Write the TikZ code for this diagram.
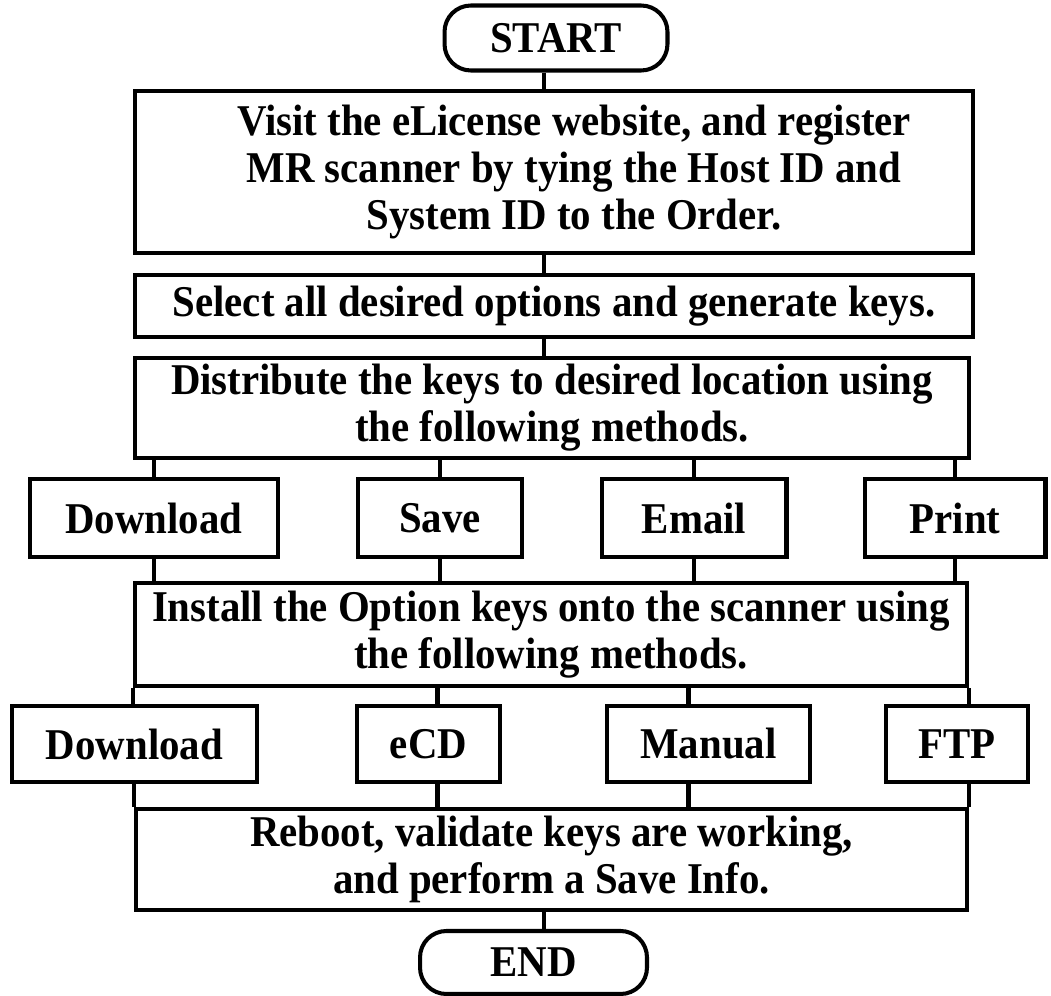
\documentclass[tikz,border=0pt]{standalone}
\usepackage{fontspec}
\setmainfont{Liberation Serif}[FakeStretch=0.93]
\begin{document}
\begin{tikzpicture}[x=0.02cm,y=-0.02cm,line join=miter]
  \tikzset{
    flowbox/.style={draw,line width=2.3pt,align=center,inner sep=0pt,
      font=\fontsize{25}{26.7}\selectfont\bfseries},
    termbox/.style={flowbox,rounded corners=15pt},
    link/.style={line width=2.3pt}
  }
  \useasboundingbox (0,0) rectangle (1051,996);
  \coordinate (spine) at (544,0);
  % main column
  \node[termbox,minimum width=4.46cm,minimum height=1.30cm] (start) at (556,38) {START};
  \node[flowbox,minimum width=16.76cm,minimum height=3.24cm] (visit) at (554,172)
    {\hspace*{0.8cm}Visit the eLicense website, and register\\\hspace*{0.8cm}MR scanner by tying the Host ID and\\\hspace*{0.8cm}System ID to the Order.};
  \node[flowbox,minimum width=16.76cm,minimum height=1.24cm] (select) at (554,306)
    {Select all desired options and generate keys.};
  \node[flowbox,minimum width=16.70cm,minimum height=2.00cm] (distr) at (552,408)
    {Distribute the keys to desired location using\\the following methods.};
  \node[flowbox,minimum width=16.64cm,minimum height=2.06cm] (install) at (551,634.5)
    {Install the Option keys onto the scanner using\\the following methods.};
  \node[flowbox,minimum width=16.62cm,minimum height=2.02cm] (reboot) at (551.5,859.5)
    {Reboot, validate keys are working,\\and perform a Save Info.};
  \node[termbox,minimum width=4.54cm,minimum height=1.26cm] (end) at (533.5,962.5) {END};
  % distribution methods
  \node[flowbox,minimum width=4.96cm,minimum height=1.56cm] (dlA) at (154,518) {Download};
  \node[flowbox,minimum width=3.28cm,minimum height=1.56cm] (save) at (440,518) {Save};
  \node[flowbox,minimum width=3.70cm,minimum height=1.56cm] (email) at (694,518) {Email};
  \node[flowbox,minimum width=3.62cm,minimum height=1.56cm] (print) at (955,518) {Print};
  % install methods
  \node[flowbox,minimum width=4.90cm,minimum height=1.52cm] (dlB) at (134.5,744) {Download};
  \node[flowbox,minimum width=2.86cm,minimum height=1.52cm] (ecd) at (428.5,744) {eCD};
  \node[flowbox,minimum width=4.06cm,minimum height=1.52cm] (manual) at (708.5,744) {Manual};
  \node[flowbox,minimum width=2.84cm,minimum height=1.52cm] (ftp) at (957,744) {FTP};
  % links
  \draw[link] (start.south -| spine) -- (visit.north -| spine);
  \draw[link] (visit.south -| spine) -- (select.north -| spine);
  \draw[link] (select.south -| spine) -- (distr.north -| spine);
  \draw[link] (reboot.south -| spine) -- (end.north -| spine);
  \foreach \b in {dlA,save,email,print} {
    \draw[link] (distr.south -| \b) -- (\b.north);
    \draw[link] (\b.south) -- (install.north -| \b);
  }
  \foreach \b/\s in {ecd/9,manual/-20} {
    \draw[link] ([xshift=\s*0.02cm]install.south -| \b) -- ([xshift=\s*0.02cm]\b.north);
    \draw[link] ([xshift=\s*0.02cm]\b.south) -- ([xshift=\s*0.02cm]reboot.north -| \b);
  }
  \draw[link] (install.south west) -- (install.south west |- dlB.north);
  \draw[link] (dlB.south -| reboot.north west) -- (reboot.north west);
  \draw[link] (install.south east) -- (install.south east |- ftp.north);
  \draw[link] (ftp.south -| reboot.north east) -- (reboot.north east);
\end{tikzpicture}
\end{document}
